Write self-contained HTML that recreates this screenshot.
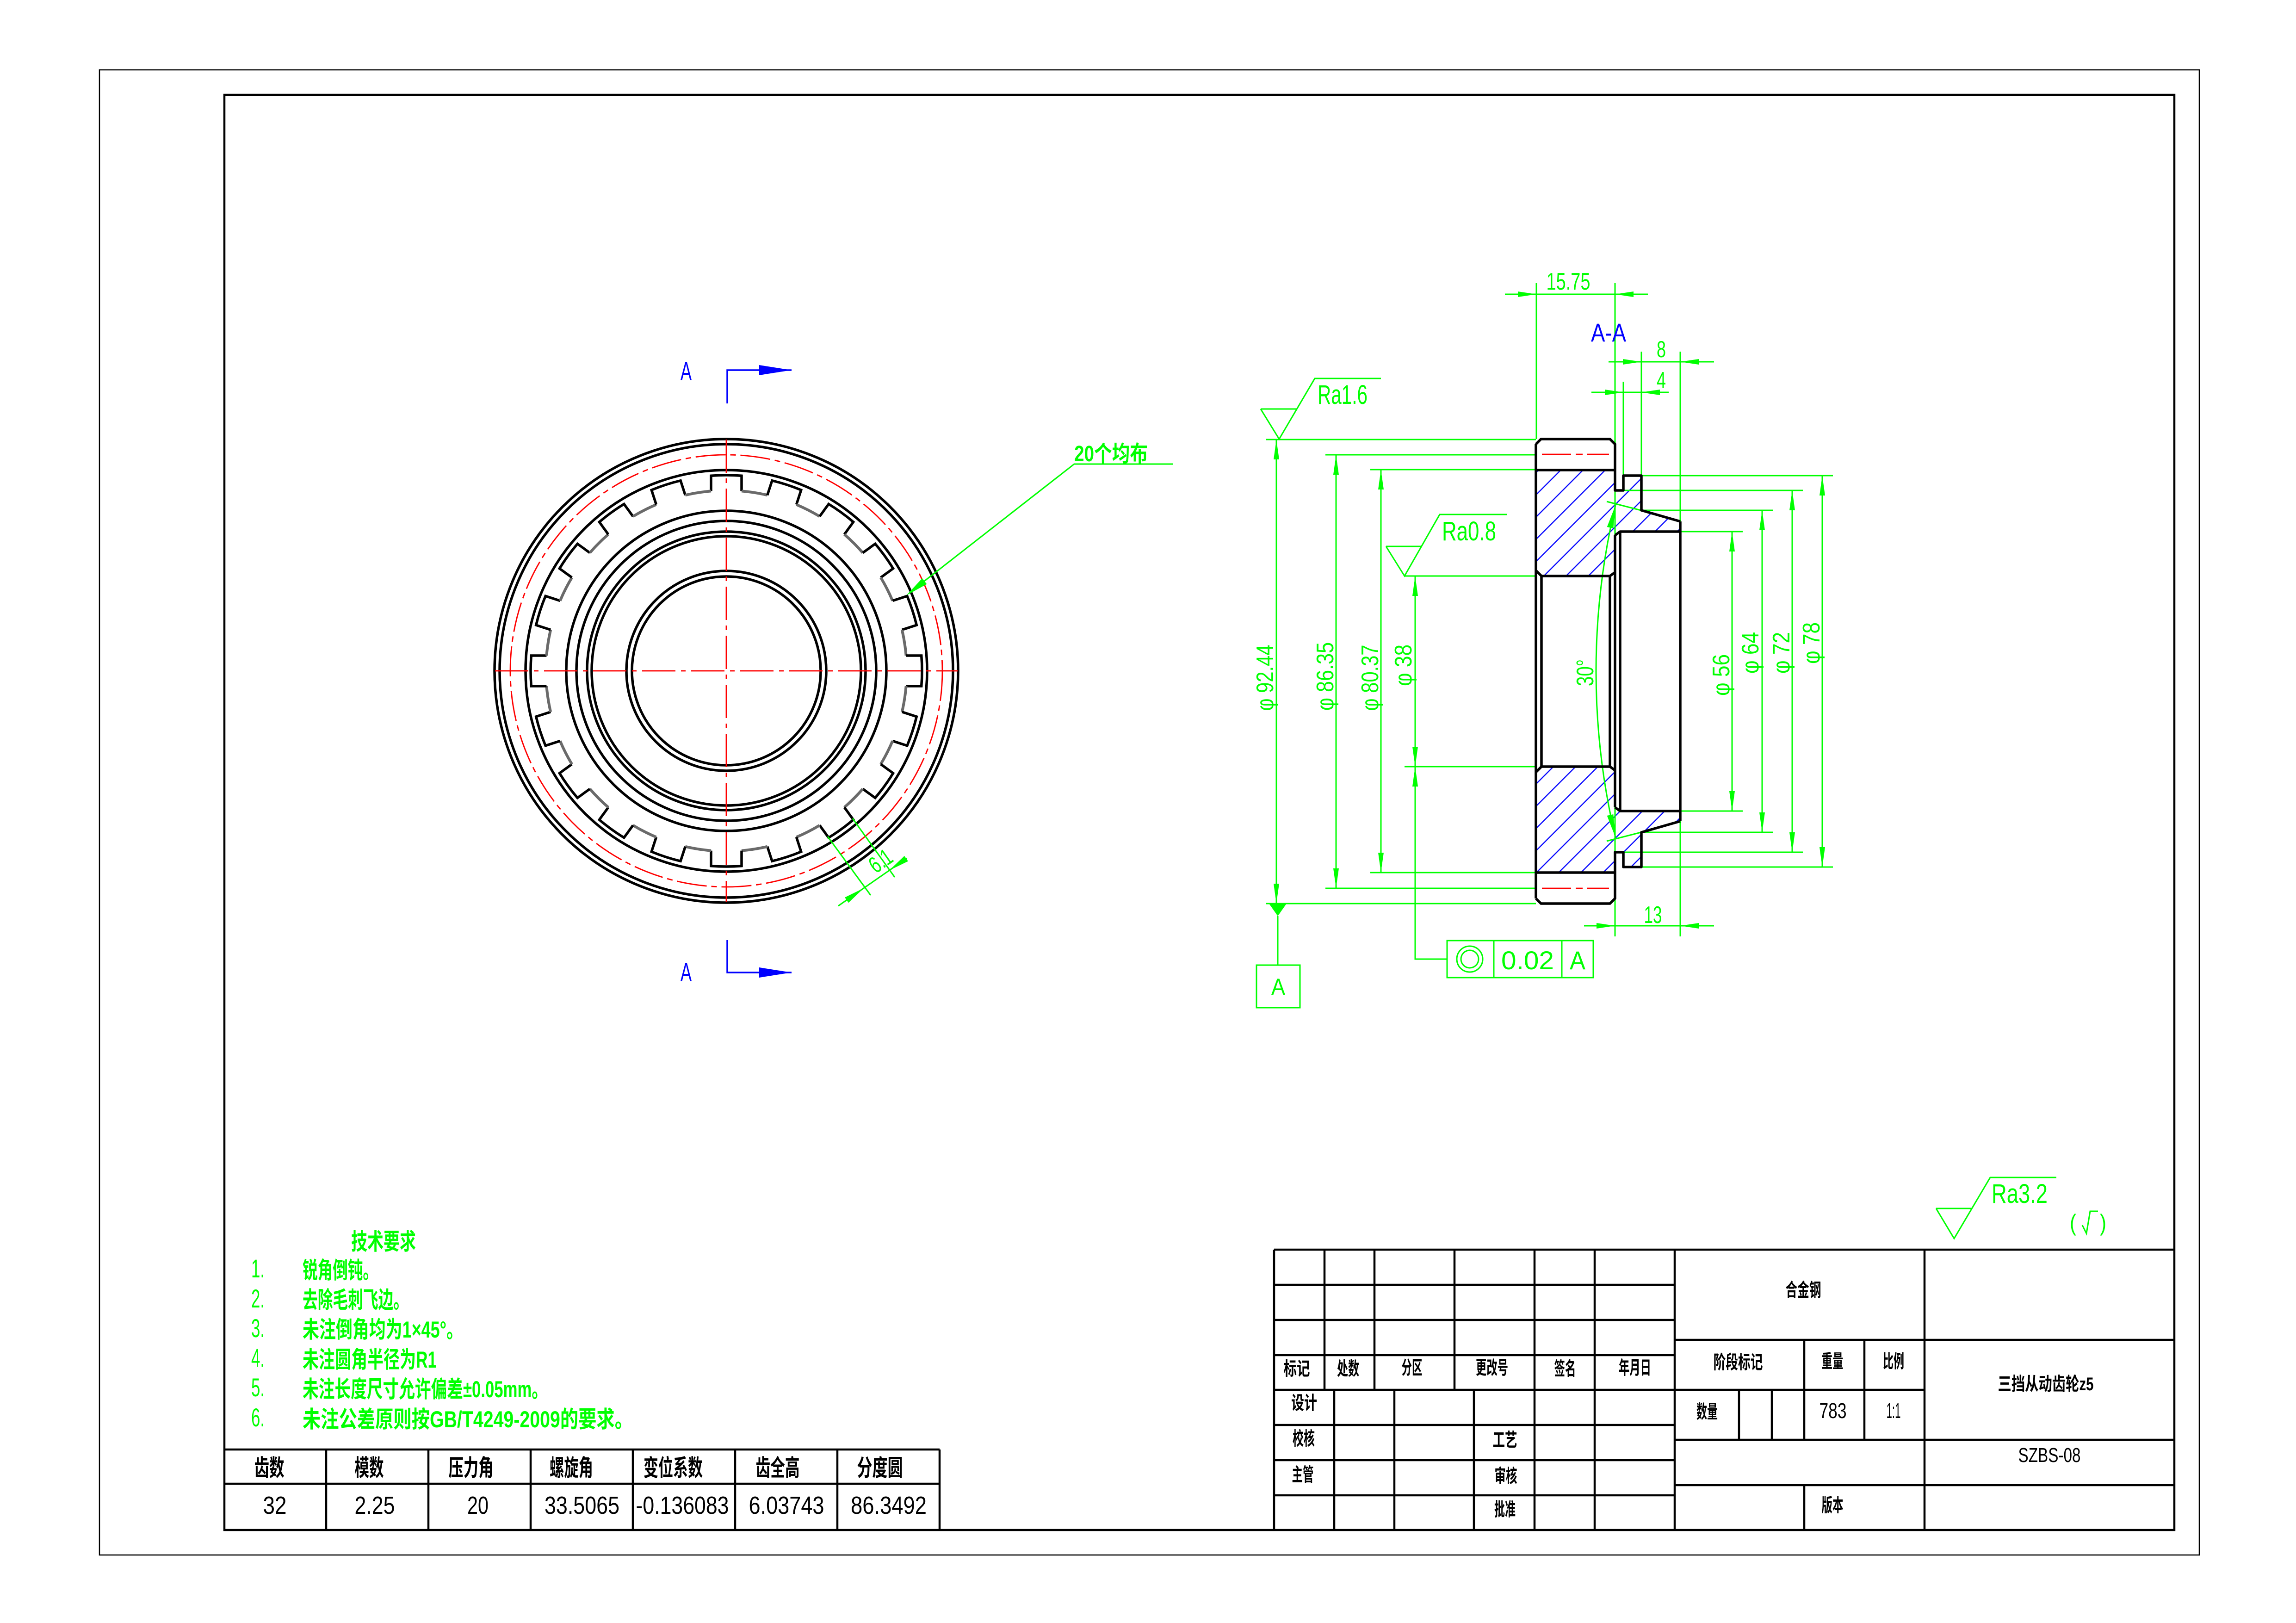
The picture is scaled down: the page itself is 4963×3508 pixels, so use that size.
<!DOCTYPE html>
<html><head><meta charset="utf-8"><style>
html,body{margin:0;padding:0;background:#fff;}
svg{display:block;}
.L{font-family:"Liberation Sans",sans-serif;}
.C{font-family:"Liberation Sans","Noto Sans CJK SC",sans-serif;}
</style></head><body>
<svg xmlns="http://www.w3.org/2000/svg" xmlns:xlink="http://www.w3.org/1999/xlink" width="4963" height="3508" viewBox="0 0 4963 3508">
<defs>
<pattern id="hp" width="34" height="34" patternUnits="userSpaceOnUse" patternTransform="rotate(45)">
<line x1="10" y1="0" x2="10" y2="34" stroke="#0000ff" stroke-width="2.4"/>
</pattern>
<clipPath id="hc">
<polygon points="3320,1016 3491,1016 3491,1060 3509,1060 3509,1028 3548,1028 3548,1103 3632,1127 3632,1149 3502,1149 3491,1157 3491,1237 3480,1245 3332,1245 3320,1233"/>
<polygon points="3320,1886 3491,1886 3491,1842 3509,1842 3509,1874 3548,1874 3548,1799 3632,1775 3632,1753 3502,1753 3491,1745 3491,1665 3480,1657 3332,1657 3320,1669"/>
</clipPath>
</defs>
<rect width="4963" height="3508" fill="#fff"/>

<!-- frames -->
<rect x="215" y="151" width="4539" height="3210" fill="none" stroke="#000" stroke-width="2.5"/>
<rect x="485" y="205" width="4215" height="3102" fill="none" stroke="#000" stroke-width="4.5"/>

<!-- ================= FRONT VIEW ================= -->
<g fill="none" stroke="#000" stroke-width="5.5">
<circle cx="1570" cy="1450" r="501"/>
<circle cx="1570" cy="1450" r="490"/>
<circle cx="1570" cy="1450" r="434"/>
<circle cx="1570" cy="1450" r="346"/>
<circle cx="1570" cy="1450" r="324"/>
<circle cx="1570" cy="1450" r="301"/>
<circle cx="1570" cy="1450" r="291"/>
<circle cx="1570" cy="1450" r="216"/>
<circle cx="1570" cy="1450" r="204"/>
</g>
<g transform="translate(1570,1450)" fill="none" stroke-width="5.5">
<g id="sp">
<path d="M-33,-388.6 L-33,-421.7 A423,423 0 0 1 33,-421.7 L33,-388.6" stroke="#000"/>
<path d="M33,-388.6 A390,390 0 0 1 88.70,-379.78" stroke="#6a6a6a" stroke-width="6"/>
</g>
<use xlink:href="#sp" transform="rotate(18)"/>
<use xlink:href="#sp" transform="rotate(36)"/>
<use xlink:href="#sp" transform="rotate(54)"/>
<use xlink:href="#sp" transform="rotate(72)"/>
<use xlink:href="#sp" transform="rotate(90)"/>
<use xlink:href="#sp" transform="rotate(108)"/>
<use xlink:href="#sp" transform="rotate(126)"/>
<use xlink:href="#sp" transform="rotate(144)"/>
<use xlink:href="#sp" transform="rotate(162)"/>
<use xlink:href="#sp" transform="rotate(180)"/>
<use xlink:href="#sp" transform="rotate(198)"/>
<use xlink:href="#sp" transform="rotate(216)"/>
<use xlink:href="#sp" transform="rotate(234)"/>
<use xlink:href="#sp" transform="rotate(252)"/>
<use xlink:href="#sp" transform="rotate(270)"/>
<use xlink:href="#sp" transform="rotate(288)"/>
<use xlink:href="#sp" transform="rotate(306)"/>
<use xlink:href="#sp" transform="rotate(324)"/>
<use xlink:href="#sp" transform="rotate(342)"/>
</g>
<g fill="none" stroke="#ff0000" stroke-width="2.8">
<circle cx="1570" cy="1450" r="467" stroke-dasharray="65 10 12 10"/>
<line x1="1070" y1="1450" x2="2070" y2="1450" stroke-dasharray="72 12 10 12"/>
<line x1="1570" y1="950" x2="1570" y2="1950" stroke-dasharray="72 12 10 12"/>
</g>

<!-- section markers -->
<g stroke="#0000ff" stroke-width="3.5" fill="none">
<polyline points="1572,872 1572,800 1711,800"/>
<polyline points="1572,2032 1572,2102 1711,2102"/>
</g>
<g fill="#0000ff">
<polygon points="1711,800 1641,789 1641,811"/>
<polygon points="1711,2102 1641,2091 1641,2113"/>
<text class="L" x="1483" y="821" font-size="56" text-anchor="middle" textLength="24" lengthAdjust="spacingAndGlyphs">A</text>
<text class="L" x="1483" y="2120" font-size="56" text-anchor="middle" textLength="24" lengthAdjust="spacingAndGlyphs">A</text>
</g>

<!-- 20个均布 leader -->
<g stroke="#00ff00" stroke-width="3" fill="none">
<polyline points="2536,1003 2322,1003 1966,1281"/>
</g>
<polygon points="1959,1287 2003.3,1262.5 1993.5,1249.9" fill="#00ff00"/>
<text class="C" x="2322" y="997" font-size="48" font-weight="bold" fill="#00ff00" textLength="159" lengthAdjust="spacingAndGlyphs">20个均布</text>

<!-- 6.1 dim -->
<g stroke="#00ff00" stroke-width="3" fill="none">
<line x1="1789" y1="1808" x2="1882" y2="1935"/>
<line x1="1843" y1="1769" x2="1934" y2="1896"/>
<line x1="1812" y1="1958" x2="1960" y2="1855"/>
</g>
<g fill="#00ff00">
<polygon points="1867,1919.7 1834.1,1951.2 1826.1,1939.7"/>
<polygon points="1922,1881.4 1962.9,1861.5 1954.9,1850"/>
<text class="L" transform="translate(1903,1860) rotate(-35)" x="0" y="18" font-size="50" text-anchor="middle" textLength="50" lengthAdjust="spacingAndGlyphs">6.1</text>
</g>

<!-- ================= SECTION VIEW ================= -->
<rect x="3300" y="1000" width="350" height="900" fill="url(#hp)" clip-path="url(#hc)"/>

<!-- green extension & dimension lines -->
<g stroke="#00ff00" stroke-width="3" fill="none">
<line x1="2736" y1="950" x2="3320" y2="950"/>
<line x1="2736" y1="1953" x2="3320" y2="1953"/>
<line x1="2865" y1="983" x2="3320" y2="983"/>
<line x1="2865" y1="1920" x2="3320" y2="1920"/>
<line x1="2962" y1="1015" x2="3320" y2="1015"/>
<line x1="2962" y1="1886" x2="3320" y2="1886"/>
<line x1="3036" y1="1245" x2="3320" y2="1245"/>
<line x1="3036" y1="1657" x2="3320" y2="1657"/>
<line x1="3548" y1="1028" x2="3962" y2="1028"/>
<line x1="3548" y1="1874" x2="3962" y2="1874"/>
<line x1="3509" y1="1060" x2="3897" y2="1060"/>
<line x1="3509" y1="1842" x2="3897" y2="1842"/>
<line x1="3548" y1="1103" x2="3832" y2="1103"/>
<line x1="3548" y1="1799" x2="3832" y2="1799"/>
<line x1="3632" y1="1149" x2="3767" y2="1149"/>
<line x1="3632" y1="1753" x2="3767" y2="1753"/>
<line x1="3321" y1="612" x2="3321" y2="949"/>
<line x1="3491" y1="612" x2="3491" y2="2024"/>
<line x1="3509" y1="825" x2="3509" y2="1028"/>
<line x1="3548" y1="760" x2="3548" y2="1028"/>
<line x1="3632" y1="760" x2="3632" y2="2024"/>
<line x1="2759" y1="950" x2="2759" y2="1953"/>
<line x1="2888" y1="983" x2="2888" y2="1920"/>
<line x1="2985" y1="1015" x2="2985" y2="1886"/>
<polyline points="3059,1245 3059,2073 3128,2073"/>
<line x1="3744" y1="1149" x2="3744" y2="1753"/>
<line x1="3809" y1="1103" x2="3809" y2="1799"/>
<line x1="3874" y1="1060" x2="3874" y2="1842"/>
<line x1="3939" y1="1028" x2="3939" y2="1874"/>
<line x1="3253" y1="636" x2="3562" y2="636"/>
<line x1="3477" y1="782" x2="3705" y2="782"/>
<line x1="3440" y1="848" x2="3607" y2="848"/>
<line x1="3424" y1="2001" x2="3705" y2="2001"/>
<line x1="3473" y1="1084" x2="3547" y2="1103"/>
<line x1="3473" y1="1818" x2="3547" y2="1799"/>
<path d="M3492,1092 A1555,1555 0 0 0 3492,1810"/>
<polyline points="2725,884 2803,884"/>
<polyline points="2725,884 2765,949 2842,818 2985,818"/>
<polyline points="2996,1181 3072,1181"/>
<polyline points="2996,1181 3036,1245 3112,1112 3257,1112"/>
<line x1="2762" y1="1980" x2="2762" y2="2086"/>
<rect x="2716" y="2086" width="94" height="92"/>
<rect x="3128" y="2033" width="316" height="80"/>
<line x1="3229" y1="2033" x2="3229" y2="2113"/>
<line x1="3376" y1="2033" x2="3376" y2="2113"/>
<circle cx="3177" cy="2073" r="28"/>
<circle cx="3177" cy="2073" r="19"/>
<polyline points="4185,2612 4262,2612"/>
<polyline points="4185,2612 4224,2677 4302,2545 4445,2545"/>
<polyline points="4501,2648 4510,2666 4518,2618 4535,2618"/>
</g>

<!-- arrows -->
<g fill="#00ff00">
<polygon points="2759,950 2753,993 2765,993"/>
<polygon points="2759,1953 2753,1910 2765,1910"/>
<polygon points="2888,983 2882,1026 2894,1026"/>
<polygon points="2888,1920 2882,1877 2894,1877"/>
<polygon points="2985,1015 2979,1058 2991,1058"/>
<polygon points="2985,1886 2979,1843 2991,1843"/>
<polygon points="3059,1245 3053,1288 3065,1288"/>
<polygon points="3059,1657 3053,1614 3065,1614"/>
<polygon points="3059,1657 3053,1700 3065,1700"/>
<polygon points="3744,1149 3738,1192 3750,1192"/>
<polygon points="3744,1753 3738,1710 3750,1710"/>
<polygon points="3809,1103 3803,1146 3815,1146"/>
<polygon points="3809,1799 3803,1756 3815,1756"/>
<polygon points="3874,1060 3868,1103 3880,1103"/>
<polygon points="3874,1842 3868,1799 3880,1799"/>
<polygon points="3939,1028 3933,1071 3945,1071"/>
<polygon points="3939,1874 3933,1831 3945,1831"/>
<polygon points="3321,636 3281,630 3281,642"/>
<polygon points="3491,636 3531,630 3531,642"/>
<polygon points="3548,782 3508,776 3508,788"/>
<polygon points="3632,782 3672,776 3672,788"/>
<polygon points="3509,848 3469,842 3469,854"/>
<polygon points="3548,848 3588,842 3588,854"/>
<polygon points="3491,2001 3451,1995 3451,2007"/>
<polygon points="3632,2001 3672,1995 3672,2007"/>
<polygon points="3492,1092 3487.3,1142 3473.7,1139"/>
<polygon points="3492,1810 3487.3,1760 3473.7,1763"/>
<polygon points="2743,1953 2781,1953 2762,1980"/>
</g>

<!-- black outlines section -->
<g fill="none" stroke="#000" stroke-width="5.5" stroke-linejoin="round">
<line x1="3320" y1="960" x2="3320" y2="1942"/>
<line x1="3632" y1="1127" x2="3632" y2="1775"/>
<line x1="3491" y1="1157" x2="3491" y2="1745"/>
<line x1="3502" y1="1149" x2="3502" y2="1753"/>
<line x1="3480" y1="1245" x2="3480" y2="1657"/>
<line x1="3332" y1="1245" x2="3332" y2="1657"/>
<g id="uh">
<path d="M3320,960 L3331,949 L3480,949 L3491,960 L3491,1060 L3509,1060 L3509,1028 L3548,1028 L3548,1103 L3632,1127"/>
<line x1="3320" y1="1016" x2="3491" y2="1016"/>
<path d="M3491,1157 L3502,1149 L3632,1149"/>
<path d="M3320,1233 L3332,1245 L3480,1245 L3491,1237"/>
</g>
<use xlink:href="#uh" transform="translate(0,2902) scale(1,-1)"/>
</g>
<g stroke="#ff0000" stroke-width="2.8" stroke-dasharray="63 10 15 10">
<line x1="3333" y1="982" x2="3478" y2="982"/>
<line x1="3333" y1="1920" x2="3478" y2="1920"/>
</g>

<!-- section texts -->
<g fill="#00ff00" class="L">
<text x="3390" y="626" font-size="52" text-anchor="middle" textLength="95" lengthAdjust="spacingAndGlyphs">15.75</text>
<text x="3591" y="772" font-size="50" text-anchor="middle" textLength="20" lengthAdjust="spacingAndGlyphs">8</text>
<text x="3591" y="839" font-size="50" text-anchor="middle" textLength="20" lengthAdjust="spacingAndGlyphs">4</text>
<text x="3573" y="1995" font-size="52" text-anchor="middle" textLength="39" lengthAdjust="spacingAndGlyphs">13</text>
<text x="2848" y="873" font-size="58" textLength="108" lengthAdjust="spacingAndGlyphs">Ra1.6</text>
<text x="3117" y="1168" font-size="58" textLength="117" lengthAdjust="spacingAndGlyphs">Ra0.8</text>
<text x="4305" y="2600" font-size="58" textLength="121" lengthAdjust="spacingAndGlyphs">Ra3.2</text>
<text x="4474" y="2660" font-size="50" textLength="14" lengthAdjust="spacingAndGlyphs">(</text>
<text x="4539" y="2660" font-size="50" textLength="14" lengthAdjust="spacingAndGlyphs">)</text>
<text x="2763" y="2150" font-size="50" text-anchor="middle" textLength="30" lengthAdjust="spacingAndGlyphs">A</text>
<text x="3302" y="2095" font-size="56" text-anchor="middle" textLength="114" lengthAdjust="spacingAndGlyphs">0.02</text>
<text x="3410" y="2095" font-size="56" text-anchor="middle" textLength="34" lengthAdjust="spacingAndGlyphs">A</text>
<text transform="translate(2752,1465) rotate(-90)" font-size="52" text-anchor="middle" textLength="143" lengthAdjust="spacingAndGlyphs">φ 92.44</text>
<text transform="translate(2882,1462) rotate(-90)" font-size="52" text-anchor="middle" textLength="148" lengthAdjust="spacingAndGlyphs">φ 86.35</text>
<text transform="translate(2979,1465) rotate(-90)" font-size="52" text-anchor="middle" textLength="143" lengthAdjust="spacingAndGlyphs">φ 80.37</text>
<text transform="translate(3051,1438) rotate(-90)" font-size="52" text-anchor="middle" textLength="90" lengthAdjust="spacingAndGlyphs">φ 38</text>
<text transform="translate(3444,1454) rotate(-90)" font-size="52" text-anchor="middle" textLength="58" lengthAdjust="spacingAndGlyphs">30°</text>
<text transform="translate(3738,1459) rotate(-90)" font-size="52" text-anchor="middle" textLength="90" lengthAdjust="spacingAndGlyphs">φ 56</text>
<text transform="translate(3801,1411) rotate(-90)" font-size="52" text-anchor="middle" textLength="90" lengthAdjust="spacingAndGlyphs">φ 64</text>
<text transform="translate(3868,1411) rotate(-90)" font-size="52" text-anchor="middle" textLength="90" lengthAdjust="spacingAndGlyphs">φ 72</text>
<text transform="translate(3933,1390) rotate(-90)" font-size="52" text-anchor="middle" textLength="90" lengthAdjust="spacingAndGlyphs">φ 78</text>
</g>
<text class="L" x="3477" y="738" font-size="56" fill="#0000ff" text-anchor="middle" textLength="76" lengthAdjust="spacingAndGlyphs">A-A</text>

<!-- ================= TECH REQUIREMENTS ================= -->
<g fill="#00ff00" class="C">
<text x="759" y="2701" font-size="50" font-weight="bold" textLength="140" lengthAdjust="spacingAndGlyphs">技术要求</text>
<text x="543" y="2761" font-size="56" textLength="29" lengthAdjust="spacingAndGlyphs">1.</text>
<text x="654" y="2763" font-size="50" font-weight="bold" textLength="163" lengthAdjust="spacingAndGlyphs">锐角倒钝。</text>
<text x="543" y="2826" font-size="56" textLength="29" lengthAdjust="spacingAndGlyphs">2.</text>
<text x="654" y="2827" font-size="50" font-weight="bold" textLength="229" lengthAdjust="spacingAndGlyphs">去除毛刺飞边。</text>
<text x="543" y="2890" font-size="56" textLength="29" lengthAdjust="spacingAndGlyphs">3.</text>
<text x="654" y="2891" font-size="50" font-weight="bold" textLength="347" lengthAdjust="spacingAndGlyphs">未注倒角均为1×45°。</text>
<text x="543" y="2954" font-size="56" textLength="29" lengthAdjust="spacingAndGlyphs">4.</text>
<text x="654" y="2956" font-size="50" font-weight="bold" textLength="290" lengthAdjust="spacingAndGlyphs">未注圆角半径为R1</text>
<text x="543" y="3018" font-size="56" textLength="29" lengthAdjust="spacingAndGlyphs">5.</text>
<text x="654" y="3020" font-size="50" font-weight="bold" textLength="530" lengthAdjust="spacingAndGlyphs">未注长度尺寸允许偏差±0.05mm。</text>
<text x="543" y="3083" font-size="56" textLength="29" lengthAdjust="spacingAndGlyphs">6.</text>
<text x="654" y="3085" font-size="50" font-weight="bold" textLength="714" lengthAdjust="spacingAndGlyphs">未注公差原则按GB/T4249-2009的要求。</text>
</g>

<!-- ================= PARAMETER TABLE ================= -->
<g stroke="#000" stroke-width="4.5" fill="none">
<line x1="485" y1="3133" x2="2031" y2="3133"/>
<line x1="485" y1="3207" x2="2031" y2="3207"/>
<line x1="705" y1="3133" x2="705" y2="3307"/>
<line x1="926" y1="3133" x2="926" y2="3307"/>
<line x1="1147" y1="3133" x2="1147" y2="3307"/>
<line x1="1368" y1="3133" x2="1368" y2="3307"/>
<line x1="1589" y1="3133" x2="1589" y2="3307"/>
<line x1="1810" y1="3133" x2="1810" y2="3307"/>
<line x1="2031" y1="3133" x2="2031" y2="3307"/>
</g>
<g fill="#000" class="C" font-size="50" font-weight="bold" text-anchor="middle">
<text x="582" y="3190" textLength="65" lengthAdjust="spacingAndGlyphs">齿数</text>
<text x="798" y="3190" textLength="63" lengthAdjust="spacingAndGlyphs">模数</text>
<text x="1018" y="3190" textLength="97" lengthAdjust="spacingAndGlyphs">压力角</text>
<text x="1235" y="3190" textLength="94" lengthAdjust="spacingAndGlyphs">螺旋角</text>
<text x="1455" y="3190" textLength="128" lengthAdjust="spacingAndGlyphs">变位系数</text>
<text x="1681" y="3190" textLength="95" lengthAdjust="spacingAndGlyphs">齿全高</text>
<text x="1902" y="3190" textLength="99" lengthAdjust="spacingAndGlyphs">分度圆</text>
</g>
<g fill="#000" class="L" font-size="54" text-anchor="middle">
<text x="594" y="3272" textLength="51" lengthAdjust="spacingAndGlyphs">32</text>
<text x="810" y="3272" textLength="87" lengthAdjust="spacingAndGlyphs">2.25</text>
<text x="1033" y="3272" textLength="46" lengthAdjust="spacingAndGlyphs">20</text>
<text x="1258" y="3272" textLength="162" lengthAdjust="spacingAndGlyphs">33.5065</text>
<text x="1475" y="3272" textLength="201" lengthAdjust="spacingAndGlyphs">-0.136083</text>
<text x="1700" y="3272" textLength="163" lengthAdjust="spacingAndGlyphs">6.03743</text>
<text x="1921" y="3272" textLength="164" lengthAdjust="spacingAndGlyphs">86.3492</text>
</g>

<!-- ================= TITLE BLOCK ================= -->
<g stroke="#000" stroke-width="4.5" fill="none">
<line x1="2754" y1="2701" x2="4700" y2="2701"/>
<line x1="2754" y1="2701" x2="2754" y2="3307"/>
<line x1="2754" y1="2777" x2="3620" y2="2777"/>
<line x1="2754" y1="2853" x2="3620" y2="2853"/>
<line x1="2754" y1="2929" x2="3620" y2="2929"/>
<line x1="2754" y1="3004" x2="3620" y2="3004"/>
<line x1="2754" y1="3080" x2="3620" y2="3080"/>
<line x1="2754" y1="3156" x2="3620" y2="3156"/>
<line x1="2754" y1="3232" x2="3620" y2="3232"/>
<line x1="2863" y1="2701" x2="2863" y2="3004"/>
<line x1="2971" y1="2701" x2="2971" y2="3004"/>
<line x1="3144" y1="2701" x2="3144" y2="3004"/>
<line x1="3317" y1="2701" x2="3317" y2="3307"/>
<line x1="3447" y1="2701" x2="3447" y2="3307"/>
<line x1="3620" y1="2701" x2="3620" y2="3307"/>
<line x1="2884" y1="3004" x2="2884" y2="3307"/>
<line x1="3014" y1="3004" x2="3014" y2="3307"/>
<line x1="3186" y1="3004" x2="3186" y2="3307"/>
<line x1="4160" y1="2701" x2="4160" y2="3307"/>
<line x1="3620" y1="2896" x2="4700" y2="2896"/>
<line x1="3620" y1="3004" x2="4160" y2="3004"/>
<line x1="3620" y1="3112" x2="4700" y2="3112"/>
<line x1="3620" y1="3210" x2="4700" y2="3210"/>
<line x1="3900" y1="2896" x2="3900" y2="3112"/>
<line x1="4030" y1="2896" x2="4030" y2="3112"/>
<line x1="3759" y1="3004" x2="3759" y2="3112"/>
<line x1="3830" y1="3004" x2="3830" y2="3112"/>
<line x1="3900" y1="3210" x2="3900" y2="3307"/>
</g>
<g fill="#000" class="C" font-size="40" font-weight="bold" text-anchor="middle">
<text x="2803" y="2972" textLength="57" lengthAdjust="spacingAndGlyphs">标记</text>
<text x="2914" y="2972" textLength="48" lengthAdjust="spacingAndGlyphs">处数</text>
<text x="3052" y="2970" textLength="45" lengthAdjust="spacingAndGlyphs">分区</text>
<text x="3225" y="2970" textLength="70" lengthAdjust="spacingAndGlyphs">更改号</text>
<text x="3383" y="2972" textLength="47" lengthAdjust="spacingAndGlyphs">签名</text>
<text x="3534" y="2970" textLength="70" lengthAdjust="spacingAndGlyphs">年月日</text>
<text x="2819" y="3046" textLength="56" lengthAdjust="spacingAndGlyphs">设计</text>
<text x="2818" y="3123" textLength="48" lengthAdjust="spacingAndGlyphs">校核</text>
<text x="2816" y="3201" textLength="47" lengthAdjust="spacingAndGlyphs">主管</text>
<text x="3253" y="3126" textLength="53" lengthAdjust="spacingAndGlyphs">工艺</text>
<text x="3255" y="3204" textLength="49" lengthAdjust="spacingAndGlyphs">审核</text>
<text x="3253" y="3276" textLength="46" lengthAdjust="spacingAndGlyphs">批准</text>
<text x="3898" y="2802" textLength="77" lengthAdjust="spacingAndGlyphs">合金钢</text>
<text x="3757" y="2958" textLength="107" lengthAdjust="spacingAndGlyphs">阶段标记</text>
<text x="3961" y="2956" textLength="47" lengthAdjust="spacingAndGlyphs">重量</text>
<text x="4093" y="2956" textLength="46" lengthAdjust="spacingAndGlyphs">比例</text>
<text x="3690" y="3065" textLength="46" lengthAdjust="spacingAndGlyphs">数量</text>
<text x="3961" y="3267" textLength="47" lengthAdjust="spacingAndGlyphs">版本</text>
<text x="4422" y="3005" textLength="207" lengthAdjust="spacingAndGlyphs">三挡从动齿轮z5</text>
</g>
<g fill="#000" class="L" text-anchor="middle">
<text x="3962" y="3065" font-size="46" textLength="59" lengthAdjust="spacingAndGlyphs">783</text>
<text x="4093" y="3065" font-size="46" textLength="31" lengthAdjust="spacingAndGlyphs">1:1</text>
<text x="4430" y="3160" font-size="44" textLength="135" lengthAdjust="spacingAndGlyphs">SZBS-08</text>
</g>
</svg>
</body></html>
